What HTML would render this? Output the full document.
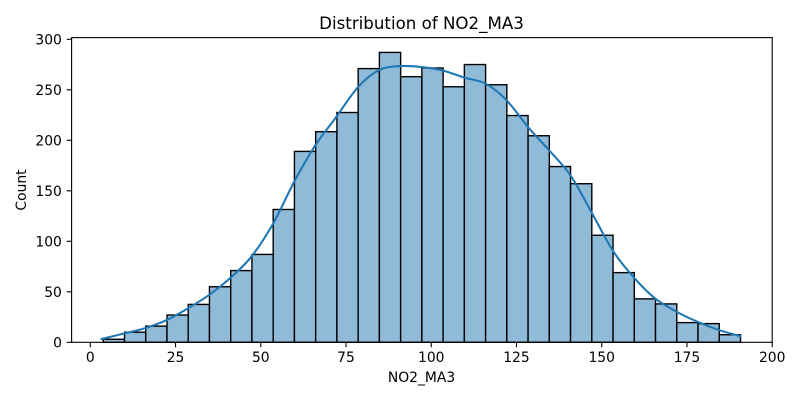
<!DOCTYPE html>
<html lang="en">
<head>
<meta charset="utf-8">
<title>Distribution of NO2_MA3</title>
<style>
html,body{margin:0;padding:0;background:#fff;}
svg{display:block;}
text{font-family:"DejaVu Sans","Liberation Sans",sans-serif;fill:#000;}
</style>
</head>
<body>
<svg id="chart" xmlns="http://www.w3.org/2000/svg" width="800" height="400" viewBox="0 0 800 400">
  <rect x="0" y="0" width="800" height="400" fill="#fff"/>
  <text x="421.5" y="29" font-size="16.67" text-anchor="middle">Distribution of NO2_MA3</text>
  <text x="421.5" y="382" font-size="13.89" text-anchor="middle">NO2_MA3</text>
  <text transform="translate(26,190) rotate(-90)" font-size="13.89" text-anchor="middle">Count</text>
  <g id="bars"></g>
  <path id="kde" fill="none" stroke="#1f77b4" stroke-width="2.08" stroke-linecap="square" stroke-linejoin="round"></path>
  <g id="ticks"></g>
  <rect x="71.6" y="37.6" width="700.6" height="304.7" fill="none" stroke="#000" stroke-width="1.11"/>
</svg>
<script>
const binStart = 3.8;
const binWidth = 6.23;
const counts = [3,10,16,27,37.5,55,71,87,131.5,189,208.5,227.5,271,287,263,271.6,253,275,255,224.5,204.5,174,157,106,69,43,38,19.5,18.5,7.5];
const kdeXValues = [3.3,9.9,16.1,22.4,28.7,34.9,41,47.3,53.7,59.8,66,72,78.6,84.7,90.8,97.2,103.5,109.7,116,122.1,128.4,134.6,140.9,147.2,153.4,159.6,165.8,172.1,178.3,184.5,190.7];
const kdeYValues = [3.3,8.7,14,22,33.7,47,63.5,85,118,159,195,222.5,253,269.5,273.5,272.5,269,262,256,239.6,213,190,165,127.5,90,63.5,43,30,20,12,6];
const xTickValues = [0,25,50,75,100,125,150,175,200];
const yTickValues = [0,50,100,150,200,250,300];

const NS = 'http://www.w3.org/2000/svg';
const xScale = v => 90.3 + v * (772.2 - 90.3) / 200;
const yScale = v => 342.3 - v * 1.01;

const barsGroup = document.getElementById('bars');
counts.forEach((c, i) => {
  const x0 = xScale(binStart + i * binWidth);
  const x1 = xScale(binStart + (i + 1) * binWidth);
  const r = document.createElementNS(NS, 'rect');
  
  
  r.setAttribute('x', x0);
  r.setAttribute('y', yScale(c));
  r.setAttribute('width', x1 - x0);
  r.setAttribute('height', yScale(0) - yScale(c));
  r.setAttribute('fill', '#8fbbd9');
  r.setAttribute('stroke', '#000');
  r.setAttribute('stroke-width', '1.39');
  barsGroup.appendChild(r);
});

const pts = kdeXValues.map((v, i) => [xScale(v), yScale(kdeYValues[i])]);
let d = 'M' + pts[0][0] + ' ' + pts[0][1];
for (let i = 0; i < pts.length - 1; i++) {
  const p0 = pts[Math.max(i - 1, 0)];
  const p1 = pts[i];
  const p2 = pts[i + 1];
  const p3 = pts[Math.min(i + 2, pts.length - 1)];
  const c1x = p1[0] + (p2[0] - p0[0]) / 6;
  const c1y = p1[1] + (p2[1] - p0[1]) / 6;
  const c2x = p2[0] - (p3[0] - p1[0]) / 6;
  const c2y = p2[1] - (p3[1] - p1[1]) / 6;
  d += 'C' + c1x + ' ' + c1y + ' ' + c2x + ' ' + c2y + ' ' + p2[0] + ' ' + p2[1];
}
document.getElementById('kde').setAttribute('d', d);

const ticksGroup = document.getElementById('ticks');
xTickValues.forEach(v => {
  const x = xScale(v);
  const l = document.createElementNS(NS, 'line');
  
  
  l.setAttribute('x1', x);
  l.setAttribute('x2', x);
  l.setAttribute('y1', 342.3);
  l.setAttribute('y2', 347.2);
  l.setAttribute('stroke', '#000');
  l.setAttribute('stroke-width', '1.11');
  ticksGroup.appendChild(l);
  const t = document.createElementNS(NS, 'text');
  
  
  t.setAttribute('x', x);
  t.setAttribute('y', 362);
  t.setAttribute('font-size', '13.89');
  t.setAttribute('text-anchor', 'middle');
  t.textContent = v;
  ticksGroup.appendChild(t);
});
yTickValues.forEach(v => {
  const y = yScale(v);
  const l = document.createElementNS(NS, 'line');
  
  
  l.setAttribute('x1', 66.7);
  l.setAttribute('x2', 71.6);
  l.setAttribute('y1', y);
  l.setAttribute('y2', y);
  l.setAttribute('stroke', '#000');
  l.setAttribute('stroke-width', '1.11');
  ticksGroup.appendChild(l);
  const t = document.createElementNS(NS, 'text');
  
  
  t.setAttribute('x', 61.9);
  t.setAttribute('y', y + 5);
  t.setAttribute('font-size', '13.89');
  t.setAttribute('text-anchor', 'end');
  t.textContent = v;
  ticksGroup.appendChild(t);
});
</script>
</body>
</html>
